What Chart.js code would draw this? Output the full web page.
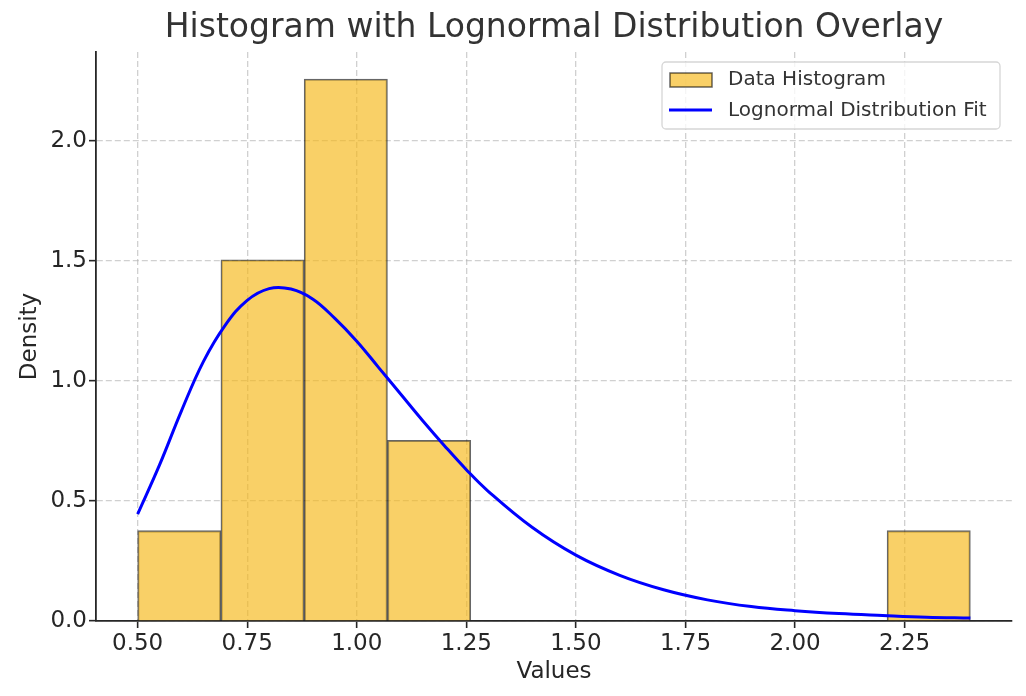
<!DOCTYPE html>
<html>
<head>
<meta charset="utf-8">
<title>Histogram with Lognormal Distribution Overlay</title>
<style>
  html, body { margin: 0; padding: 0; background: #fff; }
  #wrap { width: 1026px; height: 696px; }
</style>
</head>
<body>
<div id="wrap"><canvas id="hist-chart" width="1026" height="696"></canvas></div>

<script src="https://cdn.jsdelivr.net/npm/chart.js@4.4.1/dist/chart.umd.min.js"></script>
<script>
// histogram bins (edges) and density per bin
const binEdges = [0.5, 0.69, 0.88, 1.07, 1.26, 1.45, 1.64, 1.83, 2.02, 2.21, 2.4];
const binDensity = [0.376, 1.504, 2.256, 0.752, 0, 0, 0, 0, 0, 0.376];

// fitted lognormal curve
const fitX = [0.50, 0.55, 0.60, 0.65, 0.70, 0.75, 0.80, 0.85, 0.90, 0.95, 1.00, 1.05, 1.10,
  1.15, 1.20, 1.25, 1.30, 1.40, 1.50, 1.60, 1.70, 1.80, 1.90, 2.00, 2.10, 2.20, 2.30, 2.40];
const fitY = [0.445, 0.65, 0.875, 1.08, 1.232, 1.335, 1.384, 1.382, 1.34, 1.26, 1.165, 1.055, 0.945,
  0.835, 0.73, 0.63, 0.54, 0.39, 0.274, 0.19, 0.13, 0.088, 0.060, 0.043, 0.031, 0.023, 0.016, 0.012];

const xTicks = [0.5, 0.75, 1.0, 1.25, 1.5, 1.75, 2.0, 2.25];
const yTicks = [0, 0.5, 1.0, 1.5, 2.0];

const seriesNames = ['Data Histogram', 'Lognormal Distribution Fit'];

const FONT = "'DejaVu Sans', 'Liberation Sans', sans-serif";
const BAR_FILL = 'rgba(246,183,22,0.65)';
const BAR_EDGE = 'rgba(0,0,0,0.6)';
const LINE_COLOR = '#0000ff';
const AXIS_COLOR = '#262626';
const GRID_COLOR = 'rgba(176,176,176,0.6)';

const histPoints = binDensity.map((d, i) => ({ x: (binEdges[i] + binEdges[i + 1]) / 2, y: d }));
const fitPoints = fitX.map((x, i) => ({ x: x, y: fitY[i] }));

// title + legend drawn inside the plot like the original
const overlayPlugin = {
  id: 'overlay',
  afterDraw(chart) {
    const { ctx, chartArea } = chart;
    ctx.save();

    ctx.fillStyle = '#333333';
    ctx.font = '33px ' + FONT;
    ctx.textAlign = 'center';
    ctx.textBaseline = 'middle';
    ctx.fillText('Histogram with Lognormal Distribution Overlay', (chartArea.left + chartArea.right) / 2, 28);

    // legend box
    const bx = 662, by = 62, bw = 338, bh = 67;
    ctx.beginPath();
    ctx.roundRect(bx, by, bw, bh, 4);
    ctx.fillStyle = 'rgba(255,255,255,0.8)';
    ctx.fill();
    ctx.strokeStyle = '#d6d6d6';
    ctx.lineWidth = 1.3;
    ctx.stroke();

    ctx.fillStyle = BAR_FILL;
    ctx.fillRect(670, 73, 42, 14);
    ctx.strokeStyle = BAR_EDGE;
    ctx.lineWidth = 1.5;
    ctx.strokeRect(670, 73, 42, 14);

    ctx.beginPath();
    ctx.moveTo(669, 110);
    ctx.lineTo(712, 110);
    ctx.strokeStyle = LINE_COLOR;
    ctx.lineWidth = 3;
    ctx.stroke();

    ctx.fillStyle = '#333333';
    ctx.font = '20px ' + FONT;
    ctx.textAlign = 'left';
    ctx.fillText(seriesNames[0], 728, 80);
    ctx.fillText(seriesNames[1], 728, 111);
    ctx.restore();
  }
};

new Chart(document.getElementById('hist-chart'), {
  type: 'bar',
  data: {
    datasets: [
      {
        type: 'bar',
        label: seriesNames[0],
        data: histPoints,
        backgroundColor: (c) => (c.raw && c.raw.y > 0 ? BAR_FILL : 'rgba(0,0,0,0)'),
        borderColor: BAR_EDGE,
        borderWidth: (c) => (c.raw && c.raw.y > 0 ? 1.4 : 0),
        barPercentage: 1,
        categoryPercentage: 1,
        order: 1,
      },
      {
        type: 'line',
        label: seriesNames[1],
        data: fitPoints,
        borderColor: LINE_COLOR,
        borderWidth: 3,
        pointRadius: 0,
        fill: false,
        tension: 0.4,
        order: 0,
      },
    ],
  },
  options: {
    responsive: false,
    animation: false,
    devicePixelRatio: 1,
    layout: { padding: { left: 0, right: 14, top: 52, bottom: 0 } },
    plugins: {
      legend: { display: false },
      title: { display: false },
      tooltip: { enabled: false },
    },
    scales: {
      x: {
        type: 'linear',
        min: 0.405,
        max: 2.495,
        offset: false,
        afterBuildTicks: (scale) => { scale.ticks = xTicks.map((v) => ({ value: v })); },
        afterFit: (scale) => { scale.height = 75; },
        ticks: {
          callback: (v) => Number(v).toFixed(2),
          color: AXIS_COLOR,
          font: { family: FONT, size: 23 },
          padding: 2,
          maxRotation: 0,
          autoSkip: false,
        },
        grid: {
          offset: false,
          color: GRID_COLOR,
          lineWidth: 1.3,
          tickLength: 7,
          tickColor: AXIS_COLOR,
          tickWidth: 1.6,
          tickBorderDash: [],
        },
        border: { color: AXIS_COLOR, width: 1.8, dash: [6, 3] },
        title: {
          display: true,
          text: 'Values',
          color: AXIS_COLOR,
          font: { family: FONT, size: 23 },
          padding: { top: 0, bottom: 10 },
        },
      },
      y: {
        min: 0,
        max: 2.369,
        afterBuildTicks: (scale) => { scale.ticks = yTicks.map((v) => ({ value: v })); },
        afterFit: (scale) => { scale.width = 96; },
        ticks: {
          callback: (v) => Number(v).toFixed(1),
          color: AXIS_COLOR,
          font: { family: FONT, size: 23 },
          padding: 2,
        },
        grid: {
          color: GRID_COLOR,
          lineWidth: 1.3,
          tickLength: 7,
          tickColor: AXIS_COLOR,
          tickWidth: 1.6,
          tickBorderDash: [],
        },
        border: { color: AXIS_COLOR, width: 1.8, dash: [6, 3] },
        title: {
          display: true,
          text: 'Density',
          color: AXIS_COLOR,
          font: { family: FONT, size: 23 },
          padding: { top: 16, bottom: 0 },
        },
      },
    },
  },
  plugins: [overlayPlugin],
});
</script>
</body>
</html>
